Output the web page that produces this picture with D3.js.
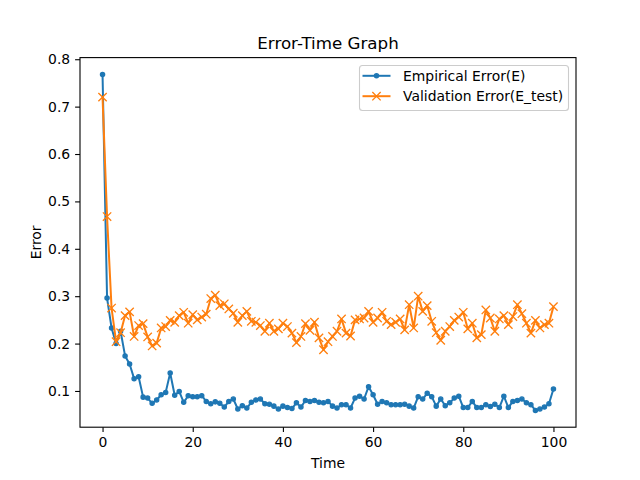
<!DOCTYPE html>
<html>
<head>
<meta charset="utf-8">
<script src="https://cdn.jsdelivr.net/npm/d3@7"></script>
<style>
  body { margin: 0; background: #fff; }
  svg text { font-family: "DejaVu Sans", sans-serif; fill: #000; }
</style>
</head>
<body>
<div id="chart"></div>
<script>
// values
var empirical = [0.768, 0.296, 0.233, 0.200, 0.226, 0.174, 0.157, 0.126, 0.130, 0.087,
  0.085, 0.074, 0.081, 0.092, 0.097, 0.138, 0.091, 0.099, 0.076, 0.090,
  0.088, 0.088, 0.090, 0.078, 0.073, 0.077, 0.074, 0.066, 0.078, 0.083,
  0.062, 0.069, 0.064, 0.076, 0.081, 0.083, 0.073, 0.072, 0.068, 0.062,
  0.068, 0.065, 0.063, 0.075, 0.066, 0.080, 0.078, 0.080, 0.076, 0.075,
  0.078, 0.068, 0.064, 0.071, 0.071, 0.064, 0.085, 0.089, 0.083, 0.109,
  0.092, 0.072, 0.078, 0.075, 0.071, 0.071, 0.071, 0.072, 0.068, 0.064,
  0.088, 0.083, 0.095, 0.088, 0.068, 0.083, 0.069, 0.075, 0.085, 0.089,
  0.065, 0.065, 0.078, 0.065, 0.065, 0.071, 0.067, 0.072, 0.065, 0.089,
  0.065, 0.078, 0.080, 0.083, 0.075, 0.071, 0.059, 0.062, 0.066, 0.073,
  0.104];
var validation = [0.720, 0.468, 0.275, 0.204, 0.223, 0.259, 0.267, 0.215, 0.238, 0.242,
  0.214, 0.195, 0.201, 0.233, 0.236, 0.249, 0.245, 0.259, 0.266, 0.243,
  0.261, 0.250, 0.256, 0.262, 0.295, 0.302, 0.280, 0.284, 0.273, 0.264,
  0.245, 0.259, 0.268, 0.247, 0.245, 0.238, 0.226, 0.243, 0.226, 0.231,
  0.243, 0.236, 0.222, 0.202, 0.215, 0.242, 0.228, 0.245, 0.212, 0.187,
  0.204, 0.215, 0.226, 0.252, 0.222, 0.216, 0.250, 0.252, 0.254, 0.268,
  0.245, 0.254, 0.266, 0.247, 0.240, 0.245, 0.252, 0.229, 0.282, 0.233,
  0.300, 0.268, 0.280, 0.247, 0.223, 0.207, 0.226, 0.236, 0.249, 0.256,
  0.266, 0.231, 0.243, 0.212, 0.219, 0.271, 0.254, 0.226, 0.252, 0.259,
  0.240, 0.257, 0.282, 0.263, 0.243, 0.222, 0.249, 0.233, 0.240, 0.243,
  0.278];
var xTicks = [0, 20, 40, 60, 80, 100];
var yTicks = [0.1, 0.2, 0.3, 0.4, 0.5, 0.6, 0.7, 0.8];
var seriesNames = ['Empirical Error(E)', 'Validation Error(E_test)'];
var colors = ['#1f77b4', '#ff7f0e'];

var W = 640, H = 480;
var axL = 80, axR = 576, axT = 57.6, axB = 427.2;

var svg = d3.select('#chart').append('svg')
    .attr('width', W)
    .attr('height', H);

// matplotlib style 5% margins
var n = empirical.length;
var xMin = 0, xMax = n - 1;
var xPad = (xMax - xMin) * 0.05;
var all = empirical.concat(validation);
var ext = d3.extent(all);
var yPad = (ext[1] - ext[0]) * 0.05;

var x = d3.scaleLinear().domain([xMin - xPad, xMax + xPad]).range([axL, axR]);
var y = d3.scaleLinear().domain([ext[0] - yPad, ext[1] + yPad]).range([axB, axT]);

// axes
var xAxis = svg.append('g')
    .attr('transform', 'translate(0,' + axB + ')')
    .call(d3.axisBottom(x).tickValues(xTicks).tickSize(4.9).tickPadding(4.9).tickFormat(d3.format('d')));
var yAxis = svg.append('g')
    .attr('transform', 'translate(' + axL + ',0)')
    .call(d3.axisLeft(y).tickValues(yTicks).tickSize(4.9).tickPadding(4.9).tickFormat(d3.format('.1f')));
[xAxis, yAxis].forEach(function(a) {
  a.select('.domain').remove();
  a.selectAll('line').attr('stroke', '#000').attr('stroke-width', 1.1);
  a.selectAll('text')
      .style('font-family', '"DejaVu Sans", sans-serif')
      .style('font-size', '13.9px')
      .attr('fill', '#000');
});

var line = d3.line()
    .x(function(d, i) { return x(i); })
    .y(function(d) { return y(d); });

var cross = 'M-4.17,-4.17L4.17,4.17M-4.17,4.17L4.17,-4.17';

// blue series: line then dots
svg.append('path')
    .datum(empirical)
    .attr('d', line)
    .attr('fill', 'none')
    .attr('stroke', colors[0])
    .attr('stroke-width', 2)
    .attr('stroke-linejoin', 'round');
svg.append('g').selectAll('circle')
    .data(empirical)
    .enter().append('circle')
    .attr('cx', function(d, i) { return x(i); })
    .attr('cy', function(d) { return y(d); })
    .attr('r', 2.1)
    .attr('fill', colors[0])
    .attr('stroke', colors[0])
    .attr('stroke-width', 1.33);

// orange series: line then crosses
svg.append('path')
    .datum(validation)
    .attr('d', line)
    .attr('fill', 'none')
    .attr('stroke', colors[1])
    .attr('stroke-width', 2)
    .attr('stroke-linejoin', 'round');
svg.append('g').selectAll('path')
    .data(validation)
    .enter().append('path')
    .attr('d', cross)
    .attr('transform', function(d, i) { return 'translate(' + x(i) + ',' + y(d) + ')'; })
    .attr('fill', 'none')
    .attr('stroke', colors[1])
    .attr('stroke-width', 1.33);

// frame
svg.append('rect')
    .attr('x', axL)
    .attr('y', axT)
    .attr('width', axR - axL)
    .attr('height', axB - axT)
    .attr('fill', 'none')
    .attr('stroke', '#000')
    .attr('stroke-width', 1.1);

// titles
svg.append('text')
    .attr('x', (axL + axR) / 2)
    .attr('y', 49.3)
    .attr('text-anchor', 'middle')
    .style('font-size', '16.7px')
    .text('Error-Time Graph');
svg.append('text')
    .attr('x', (axL + axR) / 2)
    .attr('y', 467.5)
    .attr('text-anchor', 'middle')
    .style('font-size', '13.9px')
    .text('Time');
svg.append('text')
    .attr('transform', 'translate(40.5,' + (axT + axB) / 2 + ') rotate(-90)')
    .attr('text-anchor', 'middle')
    .style('font-size', '13.9px')
    .text('Error');

// legend
var lg = svg.append('g');
lg.append('rect')
    .attr('x', 359.5)
    .attr('y', 65.5)
    .attr('width', 209)
    .attr('height', 45)
    .attr('rx', 3)
    .attr('fill', '#fff')
    .attr('fill-opacity', 0.8)
    .attr('stroke', '#cccccc')
    .attr('stroke-width', 1.1);

var rows = lg.selectAll('g.row')
    .data(seriesNames)
    .enter().append('g')
    .attr('class', 'row')
    .attr('transform', function(d, i) { return 'translate(0,' + (75.8 + i * 20.4) + ')'; });
rows.append('line')
    .attr('x1', 362.5)
    .attr('x2', 390.5)
    .attr('stroke', function(d, i) { return colors[i]; })
    .attr('stroke-width', 2);
rows.filter(function(d, i) { return i === 0; }).append('circle')
    .attr('cx', 376.5)
    .attr('r', 2.1)
    .attr('fill', colors[0])
    .attr('stroke', colors[0])
    .attr('stroke-width', 1.33);
rows.filter(function(d, i) { return i === 1; }).append('path')
    .attr('d', cross)
    .attr('transform', 'translate(376.5,0)')
    .attr('fill', 'none')
    .attr('stroke', colors[1])
    .attr('stroke-width', 1.33);
rows.append('text')
    .attr('x', 403)
    .attr('y', 5)
    .style('font-size', '13.9px')
    .text(function(d) { return d; });
</script>
</body>
</html>
